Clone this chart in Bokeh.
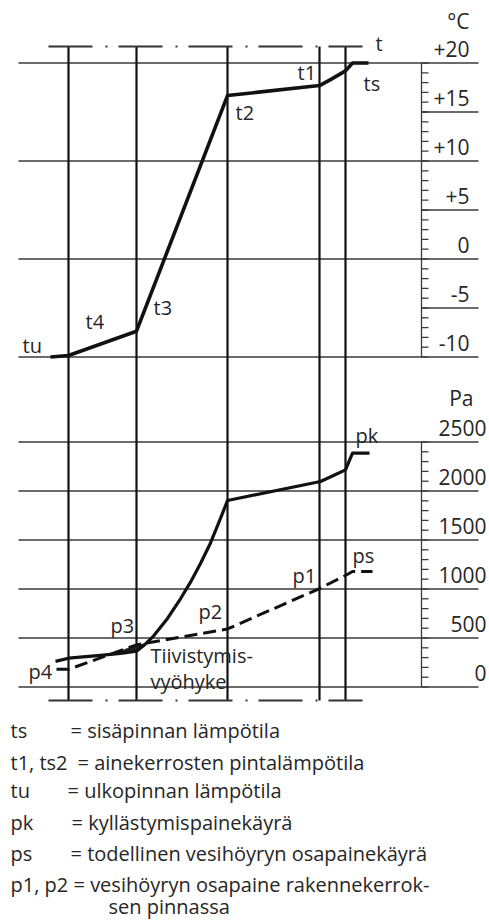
import numpy as np
from bokeh.plotting import figure
from bokeh.models import Range1d
from bokeh.core.properties import value
from bokeh.embed import file_html
from bokeh.resources import INLINE

# ---------------- data ----------------
# positions across the wall section (horizontal scale of the drawing)
layer_boundaries = [68, 136, 227, 319, 345]

# temperature curve t (°C)
temp_pos = [50, 68, 136, 227, 319, 330, 345, 352, 368]
temp_c = [-10.0, -9.85, -7.37, 16.68, 17.7, 18.3, 19.2, 20.0, 20.0]

# saturation pressure curve pk (Pa)
pk_pos = [55, 68, 100, 120, 136, 143, 153, 167, 180, 190, 200, 210, 220, 227,
          320, 333, 345, 352, 369]
pk_pa = [262, 294, 322, 343, 365, 420, 520, 700, 900, 1070, 1260, 1470, 1720, 1903,
         2097, 2158, 2216, 2386, 2386]

# actual vapour partial pressure curve ps (Pa)
ps_pos = [56, 68, 136, 227, 319, 345, 352, 372]
ps_pa = [182, 180, 430, 592, 1005, 1138, 1179, 1179]

# scales
temp_major = [20, 10, 0, -10]
temp_minor_lines = [15, 5, -5]
temp_tick_labels = ["+20", "+15", "+10", "+5", "0", "-5", "-10"]
temp_tick_values = [20, 15, 10, 5, 0, -5, -10]
temp_minor_ticks = list(range(-10, 21))

pa_tick_values = [2500, 2000, 1500, 1000, 500, 0]
pa_tick_labels = ["2500", "2000", "1500", "1000", "500", "0"]
pa_minor_ticks = list(range(0, 2501, 100))

# point labels
t_labels = ["tu", "t4", "t3", "t2", "t1", "ts"]
p_labels = ["pk", "ps", "p1", "p2", "p3", "p4"]
zone_label = ["Tiivistymis-", "vyöhyke"]

legend_keys = ["ts", "t1, ts2", "tu", "pk", "ps", "p1, p2", ""]
legend_desc = ["= sisäpinnan lämpötila",
               "= ainekerrosten pintalämpötila",
               "= ulkopinnan lämpötila",
               "= kyllästymispainekäyrä",
               "= todellinen vesihöyryn osapainekäyrä",
               "= vesihöyryn osapaine rakennekerrok-",
               "sen pinnassa"]

# ---------------- layout ----------------
W, H = 489, 920
TOP, BOT = 0, H


def calib(v1, y1, v2, y2):
    k = (v1 - v2) / (y2 - y1)
    return v1 - (BOT - y1) * k, v1 + (y1 - TOP) * k


t_bot, t_top = calib(20, 62.5, -10, 356.5)
p_bot, p_top = calib(2500, 441.5, 0, 686.5)

p = figure(width=W, height=H, x_range=Range1d(0, W), y_range=Range1d(t_bot, t_top),
           x_axis_type=None, y_axis_type=None, toolbar_location=None,
           output_backend="svg", min_border=0)
p.extra_y_ranges = {"pa": Range1d(p_bot, p_top), "page": Range1d(BOT, TOP)}
p.grid.visible = False
p.outline_line_color = None
p.background_fill_color = "white"
p.border_fill_color = "white"

LINE = "#111111"
GRID = "#3a3a3a"
TXT = "#262626"
FONT = value("Open Sans")

X_LEFT, X_RIGHT, X_AXIS = 18, 478, 421
TICK_LEN = 7

# horizontal grid – temperature
n = len(temp_major)
p.segment(x0=[X_LEFT] * n, x1=[X_RIGHT] * n, y0=temp_major, y1=temp_major,
          line_color=GRID, line_width=1.3)
n = len(temp_minor_lines)
p.segment(x0=[X_AXIS] * n, x1=[X_RIGHT] * n, y0=temp_minor_lines, y1=temp_minor_lines,
          line_color=GRID, line_width=1.3)
# horizontal grid – pressure
n = len(pa_tick_values)
p.segment(x0=[X_LEFT] * n, x1=[X_RIGHT] * n, y0=pa_tick_values, y1=pa_tick_values,
          line_color=GRID, line_width=1.3, y_range_name="pa")

# scale axes with minor ticks
p.segment(x0=[X_AXIS], x1=[X_AXIS], y0=[min(temp_tick_values)], y1=[max(temp_tick_values)],
          line_color=GRID, line_width=1.3)
n = len(temp_minor_ticks)
p.segment(x0=[X_AXIS] * n, x1=[X_AXIS + TICK_LEN] * n, y0=temp_minor_ticks, y1=temp_minor_ticks,
          line_color=GRID, line_width=1.3)
p.segment(x0=[X_AXIS], x1=[X_AXIS], y0=[0], y1=[2500],
          line_color=GRID, line_width=1.3, y_range_name="pa")
n = len(pa_minor_ticks)
p.segment(x0=[X_AXIS] * n, x1=[X_AXIS + TICK_LEN] * n, y0=pa_minor_ticks, y1=pa_minor_ticks,
          line_color=GRID, line_width=1.3, y_range_name="pa")

# layer boundary lines and the top/bottom dash-dot lines
n = len(layer_boundaries)
p.segment(x0=layer_boundaries, x1=layer_boundaries, y0=[46] * n, y1=[700] * n,
          line_color=LINE, line_width=2.2, y_range_name="page")
for yy in (46, 700):
    p.line([48, 362], [yy, yy], line_color="#333333", line_width=2,
           line_dash="44 13 2 11", y_range_name="page")

# condensation zone (where ps exceeds pk)
xs = np.linspace(min(layer_boundaries), layer_boundaries[2], 400)
pk_i = np.interp(xs, pk_pos, pk_pa)
ps_i = np.interp(xs, ps_pos, ps_pa)
p.varea(x=xs, y1=pk_i, y2=np.maximum(pk_i, ps_i), fill_color="#222222",
        y_range_name="pa")

# curves
p.line(temp_pos, temp_c, line_color=LINE, line_width=3.6, line_join="round")
p.line(pk_pos, pk_pa, line_color=LINE, line_width=3.2, line_join="round", y_range_name="pa")
p.line(ps_pos, ps_pa, line_color=LINE, line_width=3.0, line_dash="13 6", y_range_name="pa")

# scale labels
p.text(x=[469] * len(temp_tick_values), y=[v + 1.4 for v in temp_tick_values],
       text=temp_tick_labels, text_font=FONT, text_font_size="21px", text_color=TXT,
       text_align="right", text_baseline="middle")
p.text(x=[469], y=[20 + 4.3], text=["°C"], text_font=FONT, text_font_size="21px",
       text_color=TXT, text_align="right", text_baseline="middle")
p.text(x=[486] * len(pa_tick_values), y=[v + 145 for v in pa_tick_values],
       text=pa_tick_labels, text_font=FONT, text_font_size="21px", text_color=TXT,
       text_align="right", text_baseline="middle", y_range_name="pa")
p.text(x=[473], y=[2500 + 445], text=["Pa"], text_font=FONT, text_font_size="21px",
       text_color=TXT, text_align="right", text_baseline="middle", y_range_name="pa")

# point labels (page coordinates)
p.text(x=[22, 85, 153, 235, 297, 363, 375], y=[345, 321, 307, 112, 72, 83, 43],
       text=t_labels + ["t"], text_font=FONT, text_font_size="20px", text_color=TXT,
       text_align="left", text_baseline="middle", y_range_name="page")
p.text(x=[355, 352, 292, 198, 110, 28], y=[435, 555, 575, 611, 625, 671],
       text=p_labels, text_font=FONT, text_font_size="20px", text_color=TXT,
       text_align="left", text_baseline="middle", y_range_name="page")
p.text(x=[150, 150], y=[655, 681], text=zone_label, text_font=FONT,
       text_font_size="20px", text_color=TXT, text_align="left",
       text_baseline="middle", y_range_name="page")

# legend
leg_y = [730, 762, 790, 822, 853, 884, 906]
leg_dx = [70, 77, 67, 71, 70, 73, 108]
p.text(x=[10] * len(legend_keys), y=leg_y, text=legend_keys, text_font=FONT,
       text_font_size="20px", text_color=TXT, text_align="left",
       text_baseline="middle", y_range_name="page")
p.text(x=leg_dx, y=leg_y, text=legend_desc, text_font=FONT,
       text_font_size="20px", text_color=TXT, text_align="left",
       text_baseline="middle", y_range_name="page")

open("out.html", "w").write(file_html(p, INLINE))
